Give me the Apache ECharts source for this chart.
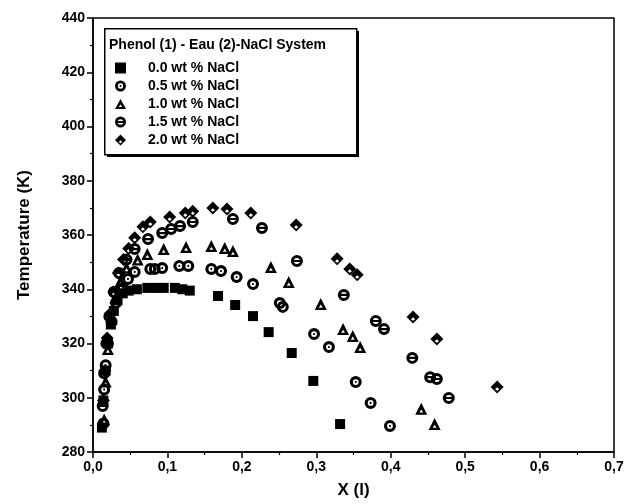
<!DOCTYPE html>
<html>
<head>
<meta charset="utf-8">
<script src="https://cdn.jsdelivr.net/npm/echarts@6/dist/echarts.min.js"></script>
<style>html,body{margin:0;padding:0;background:#fff;}#c{width:636px;height:504px;}</style>
</head>
<body>
<div id="c"></div>
<script>
// ---- data ----
const seriesNames = ['0.0 wt % NaCl', '0.5 wt % NaCl', '1.0 wt % NaCl', '1.5 wt % NaCl', '2.0 wt % NaCl'];
const legendTitle = 'Phenol (1) - Eau (2)-NaCl System';
const xTicks = [0, 0.1, 0.2, 0.3, 0.4, 0.5, 0.6, 0.7];
const yTicks = [280, 300, 320, 340, 360, 380, 400, 420, 440];

const x00 = [0.012, 0.014, 0.017, 0.020, 0.024, 0.028, 0.033, 0.040, 0.048, 0.059, 0.073, 0.086, 0.095, 0.110, 0.120, 0.130, 0.168, 0.191, 0.215, 0.236, 0.267, 0.296, 0.332];
const t00 = [289, 299, 310, 320, 327, 332, 336, 338.5, 339.5, 340, 340.5, 340.5, 340.5, 340.5, 340, 339.5, 337.5, 334.2, 330.1, 324.2, 316.5, 306.2, 290.3];

const x05 = [0.014, 0.015, 0.017, 0.020, 0.025, 0.031, 0.040, 0.047, 0.056, 0.077, 0.083, 0.093, 0.116, 0.128, 0.159, 0.172, 0.193, 0.215, 0.251, 0.255, 0.297, 0.317, 0.353, 0.373, 0.399];
const t05 = [290.5, 303, 312, 320, 328, 335, 340.5, 343.8, 346.4, 347.5, 347.5, 347.8, 348.6, 348.6, 347.5, 346.7, 344.5, 341.9, 334.9, 333.5, 323.5, 318.7, 305.8, 298.1, 289.6];

const x10 = [0.015, 0.017, 0.020, 0.025, 0.030, 0.037, 0.045, 0.060, 0.073, 0.095, 0.125, 0.159, 0.177, 0.188, 0.239, 0.263, 0.306, 0.336, 0.349, 0.359, 0.441, 0.459];
const t10 = [292, 306, 318, 329, 337, 343, 348, 351, 353, 354.8, 355.6, 355.9, 355.2, 354.1, 348.2, 342.7, 334.6, 325.3, 322.8, 318.7, 295.9, 290.3];

const x15 = [0.013, 0.015, 0.018, 0.022, 0.028, 0.035, 0.045, 0.056, 0.074, 0.093, 0.105, 0.117, 0.134, 0.188, 0.227, 0.274, 0.337, 0.380, 0.391, 0.429, 0.453, 0.462, 0.478];
const t15 = [297, 309, 320, 330, 339, 346, 351, 354.8, 358.5, 360.7, 362.2, 363.3, 364.8, 365.9, 362.6, 350.4, 337.9, 328.3, 325.3, 314.7, 307.6, 306.9, 299.9];

const x20 = [0.014, 0.016, 0.019, 0.023, 0.028, 0.034, 0.041, 0.048, 0.056, 0.067, 0.077, 0.103, 0.124, 0.134, 0.161, 0.180, 0.212, 0.273, 0.328, 0.345, 0.355, 0.430, 0.462, 0.543];
const t20 = [299, 310, 322, 331, 339, 346, 351, 355, 359, 363, 364.8, 366.6, 368.1, 368.8, 370, 369.6, 368.1, 363.7, 351.2, 347.5, 345.3, 329.8, 321.7, 304];

// ---- symbols ----
const square = 'path://M-5,-5 L5,-5 L5,5 L-5,5 Z';
const ringDot = 'path://M0,-10 A10,10 0 1,1 0,10 A10,10 0 1,1 0,-10 Z M0,-4.8 A4.8,4.8 0 1,0 0,4.8 A4.8,4.8 0 1,0 0,-4.8 Z M0,-1.8 A1.8,1.8 0 1,1 0,1.8 A1.8,1.8 0 1,1 0,-1.8 Z';
const ringBar = 'path://M0,-10 A10,10 0 1,1 0,10 A10,10 0 1,1 0,-10 Z M0,-5 A5,5 0 1,0 0,5 A5,5 0 1,0 0,-5 Z M-6,-1.8 L6,-1.8 L6,1.8 L-6,1.8 Z';
const triHole = 'path://M0,-10 L10,8 L-10,8 Z M0,0 L-3.2,4.6 L3.2,4.6 Z';
const diaHole = 'path://M0,-10 L10,0 L0,10 L-10,0 Z M0,0.5 L-3.2,3.5 L0,6 L3.2,3.5 Z';

function zip(xs, ts) { return xs.map((x, i) => [x, ts[i]]); }
const allData = [zip(x00, t00), zip(x05, t05), zip(x10, t10), zip(x15, t15), zip(x20, t20)];
const symbols = [square, ringDot, triHole, ringBar, diaHole];
const sizes = [10, 12, 12, 12, 13];

const chart = echarts.init(document.getElementById('c'), null, { renderer: 'canvas' });
const FONT = 'Liberation Sans, Arial, sans-serif';

chart.setOption({
  backgroundColor: '#fff',
  animation: false,
  grid: { left: 93, right: 22, top: 18, bottom: 52, show: true, borderColor: '#000', borderWidth: 1.5, backgroundColor: 'transparent' },
  xAxis: {
    type: 'value', min: xTicks[0], max: xTicks[xTicks.length - 1], interval: 0.1,
    name: 'X (l)', nameLocation: 'middle', nameGap: 30,
    nameTextStyle: { fontFamily: FONT, fontWeight: 'bold', fontSize: 17, color: '#000' },
    axisLine: { show: true, lineStyle: { color: '#000', width: 1.5 } },
    axisTick: { show: true, inside: false, length: 6, lineStyle: { color: '#000', width: 1.5 } },
    minorTick: { show: true, splitNumber: 2, length: 3, lineStyle: { color: '#000', width: 1.2 } },
    splitLine: { show: false },
    axisLabel: { fontFamily: FONT, fontWeight: 'bold', fontSize: 14, color: '#000', margin: 8,
      formatter: v => v.toFixed(1).replace('.', ',') }
  },
  yAxis: {
    type: 'value', min: yTicks[0], max: yTicks[yTicks.length - 1], interval: 20,
    name: 'Temperature (K)', nameLocation: 'middle', nameGap: 60,
    nameTextStyle: { fontFamily: FONT, fontWeight: 'bold', fontSize: 17, color: '#000' },
    axisLine: { show: true, lineStyle: { color: '#000', width: 1.5 } },
    axisTick: { show: true, inside: false, length: 6, lineStyle: { color: '#000', width: 1.5 } },
    minorTick: { show: true, splitNumber: 2, length: 3, lineStyle: { color: '#000', width: 1.2 } },
    splitLine: { show: false },
    axisLabel: { fontFamily: FONT, fontWeight: 'bold', fontSize: 14, color: '#000', margin: 8 }
  },
  legend: {
    orient: 'vertical', left: 115, top: 61, padding: 0, itemWidth: 11, itemHeight: 11, itemGap: 4,
    data: seriesNames,
    textStyle: { fontFamily: FONT, fontWeight: 'bold', fontSize: 14, color: '#000', lineHeight: 14, padding: [0, 0, 0, 17] },
    selectedMode: false
  },
  graphic: [
    { type: 'rect', left: 107, top: 31, shape: { width: 252, height: 126 }, style: { fill: '#000' }, z: 0 },
    { type: 'rect', left: 104, top: 28, shape: { width: 252, height: 126 }, style: { fill: '#fff', stroke: '#000', lineWidth: 1.5 }, z: 1 },
    { type: 'text', left: 109, top: 38, style: { text: legendTitle, fontFamily: FONT, fontWeight: 'bold', fontSize: 14, fill: '#000' }, z: 2 }
  ],
  series: allData.map((d, i) => ({
    type: 'scatter', name: seriesNames[i], data: d,
    symbol: symbols[i], symbolSize: sizes[i],
    itemStyle: { color: '#000', opacity: 1 },
    z: 3
  }))
});
</script>
</body>
</html>
